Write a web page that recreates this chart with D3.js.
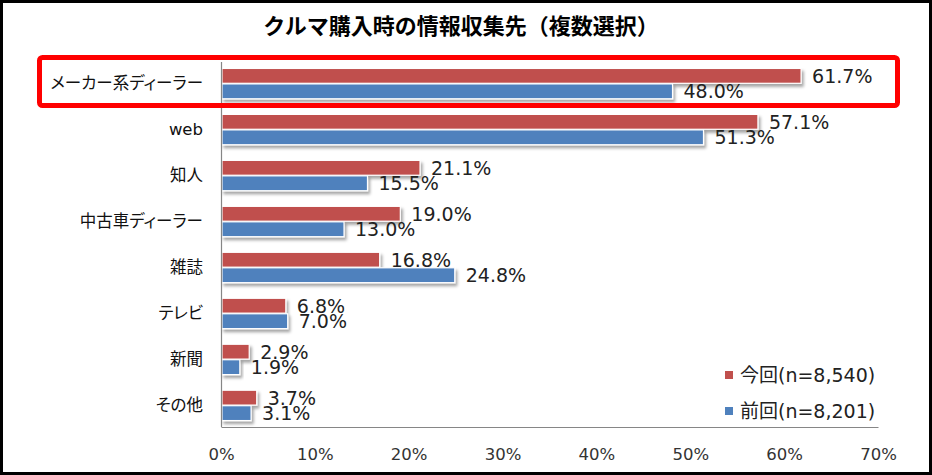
<!DOCTYPE html>
<html><head><meta charset="utf-8">
<script src="https://cdn.jsdelivr.net/npm/d3@7"></script>
<style>
html,body{margin:0;padding:0;background:#fff;}
svg{display:block;}
</style></head>
<body>
<svg id="chart" width="932" height="475"></svg>
<script>
const categories = ["メーカー系ディーラー","web","知人","中古車ディーラー","雑誌","テレビ","新聞","その他"];
const currentValues = [61.7,57.1,21.1,19.0,16.8,6.8,2.9,3.7];
const previousValues = [48.0,51.3,15.5,13.0,24.8,7.0,1.9,3.1];
const seriesNames = ["今回(n=8,540)","前回(n=8,201)"];
const seriesColors = ["#C0504D","#4F81BD"];
const xTicks = [0,10,20,30,40,50,60,70];
const titleText = "クルマ購入時の情報収集先（複数選択）";

const svg = d3.select("#chart");
const W = 932, H = 475;
const FONT = "'DejaVu Sans','Noto Sans CJK JP',sans-serif";

svg.append("rect").attr("x",0).attr("y",0).attr("width",W).attr("height",H).attr("fill","#fff");

const defs = svg.append("defs");
const f = defs.append("filter").attr("id","shadow").attr("x","-10%").attr("y","-30%").attr("width","130%").attr("height","190%");
f.append("feDropShadow").attr("dx",2).attr("dy",3).attr("stdDeviation",1.4)
  .attr("flood-color","#000").attr("flood-opacity",0.35);

const plot = {left:221, right:878, top:62, bottom:427};

const x = d3.scaleLinear().domain([0,70]).range([plot.left, plot.right]);
const y = d3.scaleBand().domain(categories).range([plot.top, plot.bottom])
  .paddingInner(0.34).paddingOuter(0.14);
const ySub = d3.scaleBand().domain([0,1]).range([0, y.bandwidth()]).paddingInner(0.04);

// title
svg.append("text").attr("x",461).attr("y",24).attr("text-anchor","middle")
  .attr("dominant-baseline","central")
  .style("font-family","'Noto Sans CJK JP',sans-serif").style("font-weight","bold")
  .style("font-size","22px").attr("fill","#000").text(titleText);

// bars
const data = categories.map((c,i)=>({cat:c, vals:[currentValues[i], previousValues[i]]}));
const groups = svg.append("g").selectAll("g").data(data).join("g")
  .attr("transform", d=>`translate(0,${y(d.cat)})`);

groups.selectAll("rect").data(d=>d.vals.map((v,k)=>({v,k}))).join("rect")
  .attr("x", x(0)+1)
  .attr("y", d=>ySub(d.k))
  .attr("width", d=>x(d.v)-x(0))
  .attr("height", ySub.bandwidth())
  .attr("fill", d=>seriesColors[d.k])
  .attr("stroke","#fff").attr("stroke-width",1.2)
  .attr("filter","url(#shadow)");

groups.selectAll("text.val").data(d=>d.vals.map((v,k)=>({v,k}))).join("text")
  .attr("class","val")
  .attr("x", d=>x(d.v)+12)
  .attr("y", d=>ySub(d.k)+ySub.bandwidth()/2)
  .attr("dy","0.36em")
  .style("font-family",FONT).style("font-size","19px").attr("fill","#222")
  .text(d=>d.v.toFixed(1)+"%");

// x axis
const xAxis = d3.axisBottom(x).tickValues(xTicks).tickSize(0).tickSizeOuter(0).tickPadding(21)
  .tickFormat(d=>d+"%");
const gx = svg.append("g").attr("transform",`translate(0,${plot.bottom})`).call(xAxis);
gx.select(".domain").attr("stroke","#868686").attr("stroke-width",1.2);
gx.selectAll("text").style("font-family",FONT).style("font-size","16.5px").attr("fill","#333");

// y axis
const yAxis = d3.axisLeft(y).tickSize(0).tickSizeOuter(0).tickPadding(18);
const gy = svg.append("g").attr("transform",`translate(${plot.left},0)`).call(yAxis);
gy.select(".domain").attr("stroke","#868686").attr("stroke-width",1.2)
  .attr("d",`M0.5,${plot.top}V${plot.bottom}`);
gy.selectAll("text").style("font-family",FONT)
  .style("font-size","16.5px")
  .style("font-feature-settings","'palt' 1")
  .attr("fill","#111");

// legend
const legend = svg.append("g");
seriesNames.forEach((name,i)=>{
  const ly = 375 + i*36;
  legend.append("rect").attr("x",725).attr("y",ly-4).attr("width",8).attr("height",8)
    .attr("fill",seriesColors[i]);
  legend.append("text").attr("x",740).attr("y",ly).attr("dy","0.36em")
    .style("font-family",FONT).style("font-size","19px").attr("fill","#222").text(name);
});

// highlight box
svg.append("rect").attr("x",39.5).attr("y",57.5).attr("width",858).attr("height",48)
  .attr("rx",3).attr("fill","none").attr("stroke","#FF0000").attr("stroke-width",5);

// outer border
svg.append("rect").attr("x",1.5).attr("y",1.5).attr("width",W-3).attr("height",H-3)
  .attr("fill","none").attr("stroke","#000").attr("stroke-width",3);
</script>
</body></html>
